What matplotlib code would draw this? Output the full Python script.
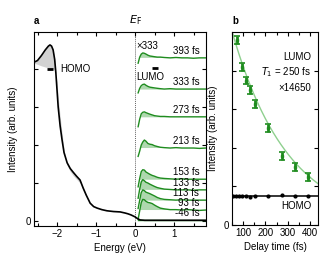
import numpy as np
import matplotlib
matplotlib.use("Agg")
import matplotlib.pyplot as plt
from matplotlib.ticker import MultipleLocator
import matplotlib.transforms as mtransforms

plt.rcParams['font.family'] = ['Liberation Sans', 'DejaVu Sans']
plt.rcParams['font.size'] = 7
plt.rcParams['axes.linewidth'] = 0.8

# ---------------- data: panel a ----------------
E_homo = [-2.62, -2.5, -2.4, -2.3, -2.22, -2.18, -2.14, -2.1, -2.06, -2.03, -2.0, -1.97,
          -1.92, -1.87, -1.82, -1.74, -1.66, -1.59, -1.5, -1.41, -1.33, -1.25, -1.15,
          -1.06, -0.97, -0.85, -0.72, -0.55, -0.38, -0.25, -0.18, -0.1, 0.0, 0.07, 0.13,
          0.25, 0.5, 1.0, 1.5, 1.82]
spec_pumped = [4.16, 4.22, 4.35, 4.5, 4.6, 4.63, 4.6, 4.5, 4.25, 3.9, 3.45, 3.0,
               2.5, 2.13, 1.8, 1.53, 1.38, 1.29, 1.18, 1.08, 0.87, 0.68, 0.47,
               0.38, 0.34, 0.3, 0.27, 0.25, 0.24, 0.21, 0.19, 0.16, 0.11, 0.06, 0.03,
               0.02, 0.02, 0.02, 0.02, 0.02]
spec_ref = [4.16, 4.12, 4.08, 4.05, 4.03, 4.02, 4.02, 4.0, 3.97, 3.88, 3.65, 3.25,
            2.75, 2.3, 1.88, 1.47, 1.3, 1.2, 1.1, 1.0, 0.8, 0.65, 0.47,
            0.38, 0.34, 0.3, 0.27, 0.25, 0.24, 0.21, 0.19, 0.16, 0.11, 0.06, 0.03,
            0.02, 0.02, 0.02, 0.02, 0.02]

E_lumo = [0.08, 0.12, 0.16, 0.20, 0.24, 0.28, 0.33, 0.38, 0.44, 0.50, 0.57, 0.65,
          0.75, 0.90, 1.05, 1.20, 1.35, 1.50, 1.65, 1.82]
delay_labels = ['-46 fs', '93 fs', '113 fs', '133 fs', '153 fs', '213 fs', '273 fs', '333 fs', '393 fs']
lumo_m46 = [0.0] * 20
lumo_93 = [-0.24, -0.02, 0.20, 0.28, 0.27, 0.23, 0.20, 0.19, 0.17, 0.13, 0.09, 0.05, 0.03, 0.01, 0.01, 0.0, 0.01, 0.0, -0.01, 0.0]
lumo_113 = [-0.22, 0.0, 0.20, 0.27, 0.25, 0.21, 0.19, 0.17, 0.14, 0.11, 0.07, 0.04, 0.02, 0.01, 0.0, 0.01, 0.0, 0.0, 0.0, 0.0]
lumo_133 = [-0.22, 0.02, 0.21, 0.27, 0.24, 0.20, 0.18, 0.15, 0.12, 0.09, 0.06, 0.04, 0.02, 0.01, 0.0, 0.0, 0.0, -0.01, 0.0, 0.0]
lumo_153 = [-0.20, 0.02, 0.20, 0.25, 0.24, 0.19, 0.16, 0.13, 0.10, 0.08, 0.05, 0.03, 0.02, 0.01, 0.0, 0.01, 0.0, 0.0, 0.0, 0.0]
lumo_213 = [-0.22, -0.08, 0.08, 0.16, 0.21, 0.18, 0.12, 0.10, 0.09, 0.06, 0.04, 0.02, 0.01, 0.0, 0.01, 0.0, 0.0, 0.0, -0.01, 0.0]
lumo_273 = [-0.26, -0.06, 0.08, 0.12, 0.13, 0.11, 0.09, 0.07, 0.05, 0.03, 0.02, 0.01, 0.01, 0.0, 0.0, 0.0, 0.0, 0.0, 0.0, 0.0]
lumo_333 = [-0.10, 0.02, 0.09, 0.12, 0.13, 0.10, 0.07, 0.05, 0.04, 0.03, 0.02, 0.01, 0.0, 0.01, 0.0, 0.0, 0.0, 0.0, 0.0, 0.0]
lumo_393 = [-0.14, 0.02, 0.10, 0.13, 0.12, 0.10, 0.07, 0.05, 0.04, 0.03, 0.02, 0.02, 0.01, 0.0, 0.01, 0.0, 0.0, -0.01, 0.0, 0.0]
lumo_traces = [lumo_m46, lumo_93, lumo_113, lumo_133, lumo_153, lumo_213, lumo_273, lumo_333, lumo_393]

# ---------------- data: panel b ----------------
t_lumo = [73, 93, 113, 133, 153, 213, 273, 333, 393]
lumo_int = [4.8, 4.1, 3.74, 3.5, 3.14, 2.52, 1.79, 1.5, 1.25]
lumo_err = [0.1, 0.1, 0.1, 0.1, 0.1, 0.1, 0.1, 0.1, 0.1]
t_homo = [53, 67, 80, 93, 113, 133, 153, 213, 273, 333, 393]
homo_int = [0.75, 0.76, 0.76, 0.75, 0.75, 0.72, 0.76, 0.76, 0.77, 0.76, 0.76]
homo_level = 0.75
fit_amplitude = 6.13
fit_T1 = 250.0

# ---------------- styling / layout ----------------
GREEN = '#1f8c1f'
FILL_GREEN = '#aed8ae'
offsets = [0.02, 0.29, 0.55, 0.82, 1.10, 1.92, 2.74, 3.47, 4.29]

fig = plt.figure(figsize=(3.35, 2.70), dpi=100)
axa = fig.add_axes([34/335, 1 - 226/270, (206-34)/335, (226-32)/270])
axb = fig.add_axes([232/335, 1 - 225/270, (318-232)/335, (225-32)/270])

# ----- panel a -----
axa.fill_between(E_homo, spec_pumped, spec_ref, color='#d2d2d2', lw=0, zorder=1)
axa.axvline(0, color='#666666', ls=(0, (1, 1)), lw=0.7, zorder=0)
E_arr = np.array(E_lumo)
for trace, off, lab in zip(lumo_traces, offsets, delay_labels):
    y = np.array(trace) + off
    axa.fill_between(E_arr, y, off, where=(y >= off), interpolate=True,
                     color=FILL_GREEN, lw=0, zorder=2)
for trace, off, lab in zip(lumo_traces, offsets, delay_labels):
    y = np.array(trace) + off
    axa.plot(E_arr, y, color=GREEN, lw=1.0, zorder=3)
    axa.text(1.65, off + 0.06, lab, ha='right', va='bottom', fontsize=7, zorder=5)
axa.plot(E_homo, spec_pumped, color='black', lw=1.2, zorder=4)

axa.plot([-2.26, -2.1], [4.0, 4.0], color='black', lw=2, solid_capstyle='butt', zorder=5)
axa.text(-1.92, 4.0, 'HOMO', ha='left', va='center', fontsize=7)
axa.plot([0.44, 0.59], [4.03, 4.03], color='black', lw=2, solid_capstyle='butt', zorder=5)
axa.text(0.04, 3.8, 'LUMO', ha='left', va='center', fontsize=7)
axa.text(0.04, 4.6, '×333', ha='left', va='center', fontsize=7)

axa.set_xlim(-2.59, 1.82)
axa.set_ylim(-0.13, 4.97)
axa.xaxis.set_major_locator(MultipleLocator(1))
axa.xaxis.set_minor_locator(MultipleLocator(0.5))
axa.set_yticks([0, 1, 2, 3, 4])
axa.set_yticklabels(['0', '', '', '', ''])
axa.tick_params(which='both', direction='in', top=True, right=True, length=3, width=0.8, pad=2)
axa.tick_params(which='minor', length=2)
axa.set_xlabel('Energy (eV)', labelpad=3)
axa.set_ylabel('Intensity (arb. units)', labelpad=6)
axa.text(0.0, 1.025, r'$E_\mathrm{F}$', transform=mtransforms.blended_transform_factory(axa.transData, axa.transAxes),
         ha='center', va='bottom', fontsize=8)
axa.text(0.0, 1.03, 'a', transform=axa.transAxes, ha='left', va='bottom', fontsize=7, fontweight='bold')

# ----- panel b -----
t_fit = np.linspace(50, 436, 200)
axb.plot(t_fit, fit_amplitude * np.exp(-t_fit / fit_T1), color='#8fd08f', lw=1.0, zorder=1)
axb.errorbar(t_lumo, lumo_int, yerr=lumo_err, fmt='s', ms=2, color=GREEN, ecolor=GREEN,
             elinewidth=2, capsize=2, capthick=1.2, zorder=3)
axb.axhline(homo_level, color='black', lw=1.1, zorder=2)
axb.plot(t_homo, homo_int, 'o', color='black', ms=2, zorder=3)
axb.text(0.92, 0.87, 'LUMO', transform=axb.transAxes, ha='right', va='center', fontsize=7)
axb.text(0.92, 0.79, r'$T_1$ = 250 fs', transform=axb.transAxes, ha='right', va='center', fontsize=7)
axb.text(0.92, 0.71, '×14650', transform=axb.transAxes, ha='right', va='center', fontsize=7)
axb.text(0.92, 0.10, 'HOMO', transform=axb.transAxes, ha='right', va='center', fontsize=7)

axb.set_xlim(50, 436)
axb.set_ylim(0, 5)
axb.xaxis.set_major_locator(MultipleLocator(100))
axb.xaxis.set_minor_locator(MultipleLocator(50))
axb.set_yticks([0, 1, 2, 3, 4])
axb.set_yticklabels(['0', '', '', '', ''])
axb.tick_params(which='both', direction='in', top=True, right=True, length=3, width=0.8, pad=2)
axb.tick_params(which='minor', length=2)
axb.set_xlabel('Delay time (fs)', labelpad=3)
axb.set_ylabel('Intensity (arb. units)', labelpad=4)
axb.text(0.0, 1.03, 'b', transform=axb.transAxes, ha='left', va='bottom', fontsize=7, fontweight='bold')

fig.savefig('out.png', dpi=100)
